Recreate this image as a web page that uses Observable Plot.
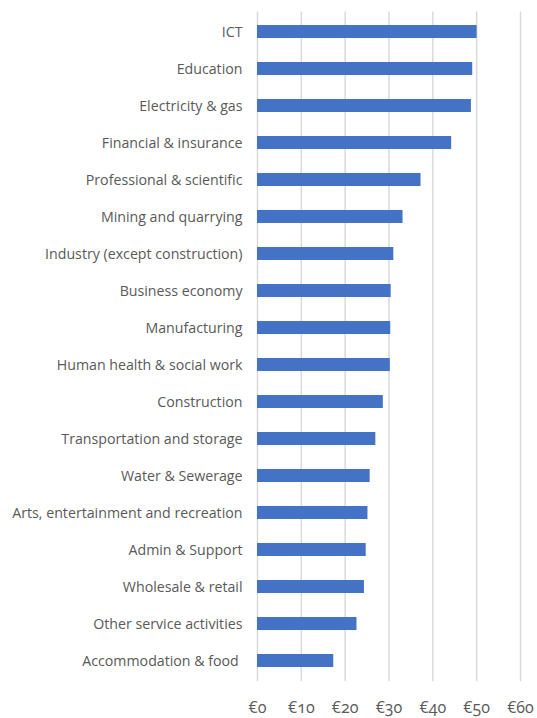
<!DOCTYPE html>
<html>
<head>
<meta charset="utf-8">
<script src="https://cdn.jsdelivr.net/npm/d3@7"></script>
<script src="https://cdn.jsdelivr.net/npm/@observablehq/plot@0.6"></script>
<style>
  html, body { margin: 0; padding: 0; background: #fff; }
  #chart svg { font-family: "Open Sans", sans-serif; display: block; }
  .xt text { font-variant-numeric: oldstyle-nums; font-feature-settings: "onum" 1; }
</style>
</head>
<body>
<div id="chart"></div>
<script>
const sectors = [
  "ICT", "Education", "Electricity & gas", "Financial & insurance",
  "Professional & scientific", "Mining and quarrying", "Industry (except construction)",
  "Business economy", "Manufacturing", "Human health & social work", "Construction",
  "Transportation and storage", "Water & Sewerage", "Arts, entertainment and recreation",
  "Admin & Support", "Wholesale & retail", "Other service activities", "Accommodation & food "
];
const values = [50.1, 49.1, 48.8, 44.3, 37.3, 33.2, 31.1, 30.5, 30.4, 30.3, 28.7, 27.0, 25.7, 25.2, 24.8, 24.4, 22.7, 17.4];
const xTicks = [0, 10, 20, 30, 40, 50, 60];

const data = sectors.map((s, i) => ({sector: s, value: values[i]}));

const chart = Plot.plot({
  width: 537,
  height: 718,
  marginLeft: 257,
  marginRight: 17,
  marginTop: 11.4,
  marginBottom: 36.7,
  style: {fontSize: "14px", color: "#595959", background: "#fff"},
  x: {domain: [0, 60], ticks: xTicks, label: null},
  y: {domain: sectors, paddingInner: 0.65, paddingOuter: 0.325, label: null},
  marks: [
    Plot.gridX(xTicks, {stroke: "#d9d9d9", strokeOpacity: 1, strokeWidth: 1.5}),
    Plot.barX(data, {x: "value", y: "sector", fill: "#4472C4"}),
    Plot.axisY({tickSize: 0, tickPadding: 15, fontSize: 14.2, fill: "#595959", label: null}),
    Plot.axisX(xTicks, {tickSize: 0, tickPadding: 20, fontSize: 16, fill: "#595959", label: null, tickFormat: d => "€" + d, className: "xt"})
  ]
});
document.getElementById("chart").appendChild(chart);
</script>
</body>
</html>
